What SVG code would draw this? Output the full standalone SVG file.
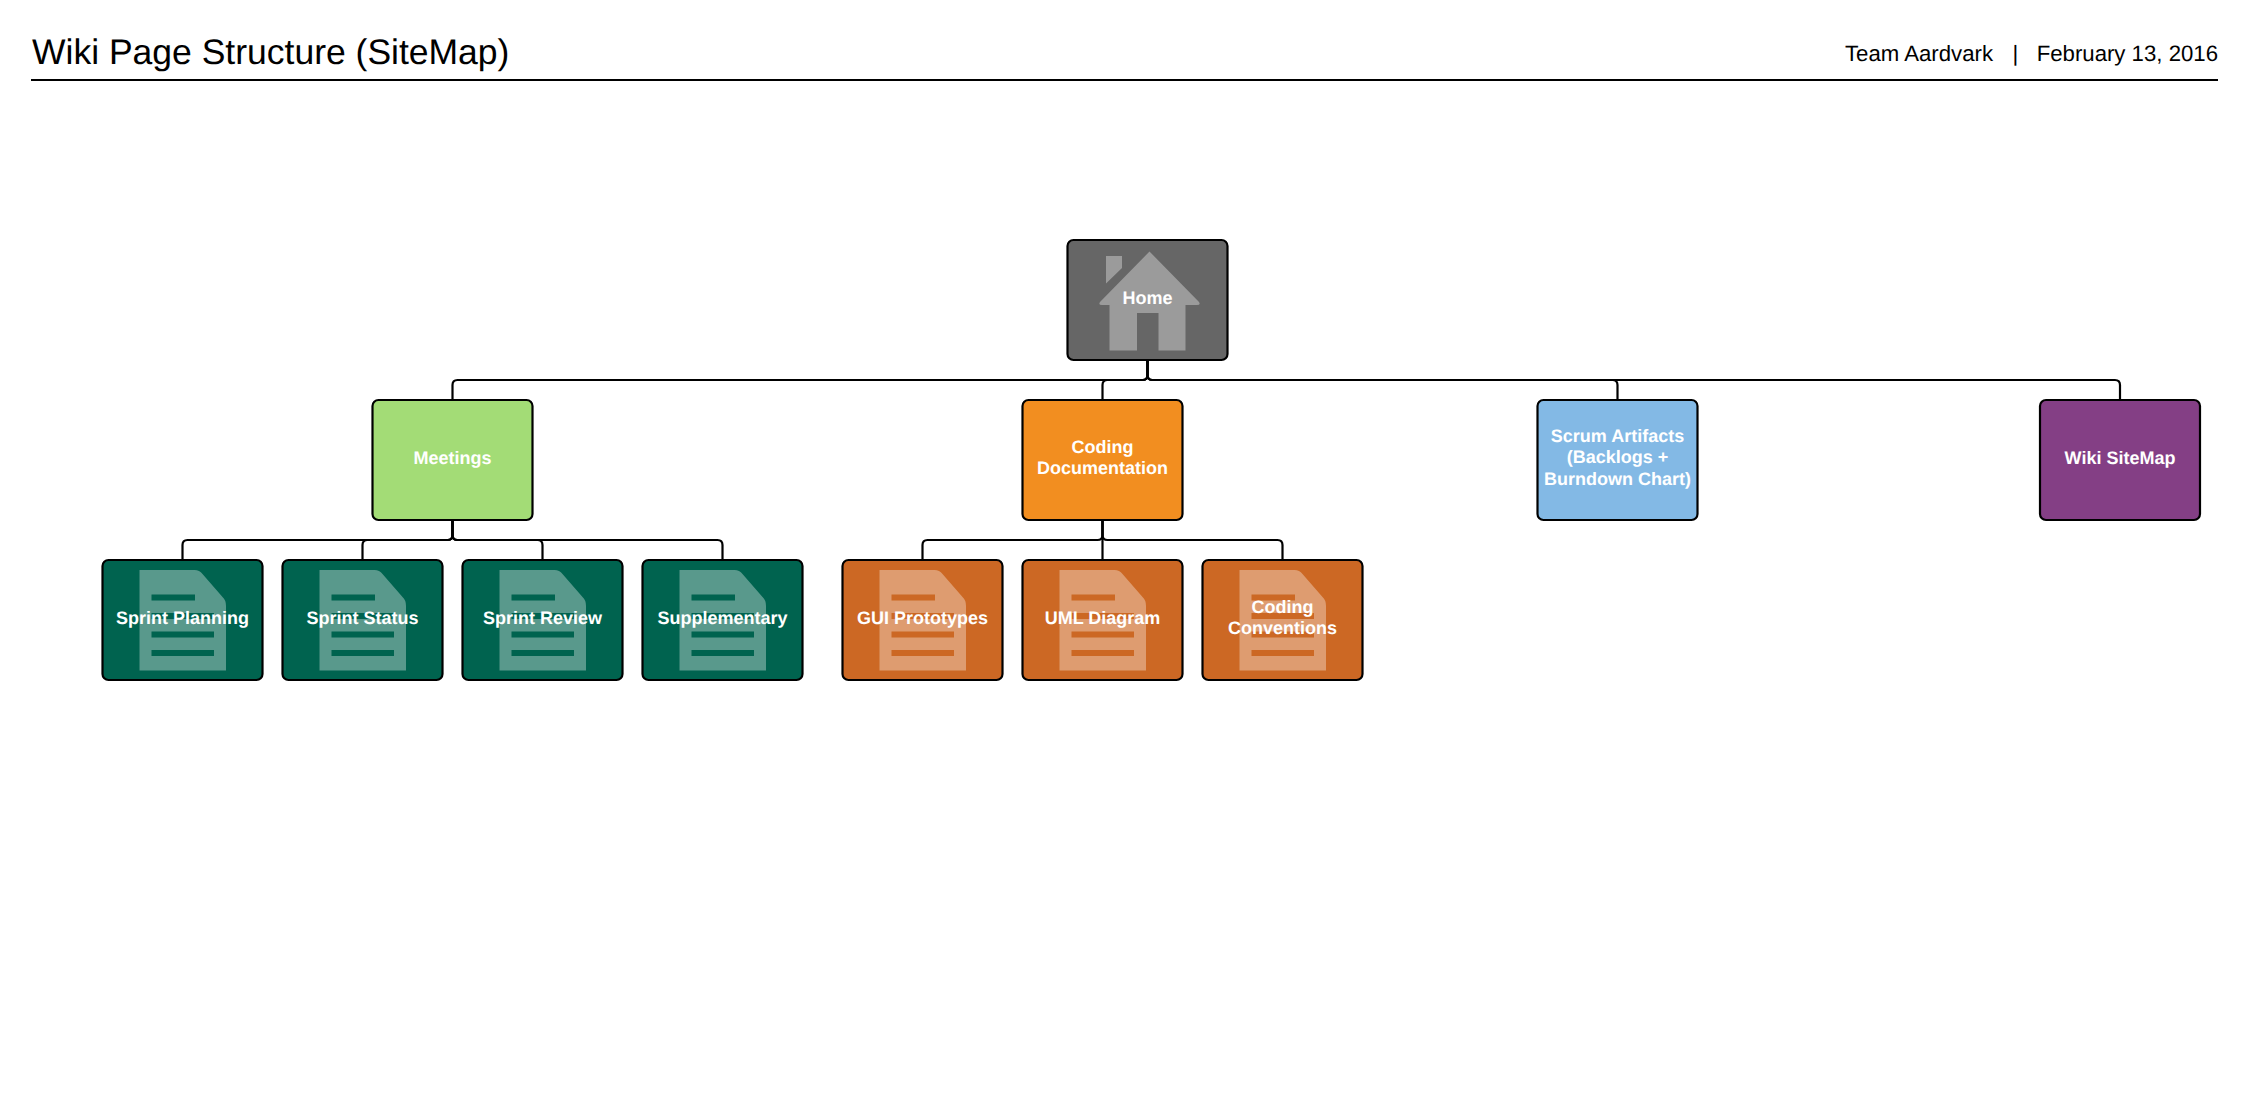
<svg xmlns="http://www.w3.org/2000/svg" width="2249" height="1100" viewBox="0 0 2249 1100">
<style>
text{font-family:"Liberation Sans",Arial,sans-serif;text-rendering:geometricPrecision}
.box{stroke:#000;stroke-width:2.2}
.lbl{fill:#fff;font-weight:bold;font-size:18px;text-anchor:middle}
.con{fill:none;stroke:#000;stroke-width:2.2}
.icon{fill:#fff;fill-opacity:.35}
</style>
<defs>
<path id="doc" fill-rule="evenodd" d="M37 10H92Q97 10 100 14L120 37Q123.500 40 123.500 46V110.500H37ZM49 34.500V40.500H92.500V34.500ZM49 53V59H111.500V53ZM49 71.500V77.500H111.500V71.500ZM49 90V96H111.500V90Z"/>
<path id="house" fill-rule="evenodd" d="M1149.500 251.500L1199 302Q1201 305 1197 305H1185.500V350.500H1158.500V313H1137V350.500H1109.500V305H1102Q1098 305 1100 302ZM1106 256H1122V268L1106 283.500Z"/>
</defs>
<rect width="2249" height="1100" fill="#fff"/>
<g id="header">
<text x="32" y="64" font-size="35.500">Wiki Page Structure (SiteMap)</text>
<text x="1845" y="61" font-size="22.200">Team Aardvark</text>
<text x="2015.500" y="61" font-size="22.200" text-anchor="middle">|</text>
<text x="2218" y="61" font-size="22.200" text-anchor="end">February 13, 2016</text>
<line x1="31" y1="80" x2="2218" y2="80" stroke="#000" stroke-width="2"/>
</g>
<g id="connectors" class="con">
<path d="M1147.500 360V375Q1147.500 380 1142.500 380H457.500Q452.500 380 452.500 385V400"/>
<path d="M1147.500 360V375Q1147.500 380 1142.500 380H1107.500Q1102.500 380 1102.500 385V400"/>
<path d="M1147.500 360V375Q1147.500 380 1152.500 380H1612.500Q1617.500 380 1617.500 385V400"/>
<path d="M1147.500 360V375Q1147.500 380 1152.500 380H2115Q2120 380 2120 385V400"/>
<path d="M452.500 520V535Q452.500 540 447.500 540H187.500Q182.500 540 182.500 545V560"/>
<path d="M452.500 520V535Q452.500 540 447.500 540H367.500Q362.500 540 362.500 545V560"/>
<path d="M452.500 520V535Q452.500 540 457.500 540H537.500Q542.500 540 542.500 545V560"/>
<path d="M452.500 520V535Q452.500 540 457.500 540H717.500Q722.500 540 722.500 545V560"/>
<path d="M1102.500 520V535Q1102.500 540 1097.500 540H927.500Q922.500 540 922.500 545V560"/>
<path d="M1102.500 520V560"/>
<path d="M1102.500 520V535Q1102.500 540 1107.500 540H1277.500Q1282.500 540 1282.500 545V560"/>
</g>
<g id="home"><rect class="box" x="1067.500" y="240" width="160" height="120" rx="6" fill="#666"/><use href="#house" class="icon"/><text class="lbl" x="1147.500" y="304">Home</text></g>
<g id="meetings"><rect class="box" x="372.500" y="400" width="160" height="120" rx="6" fill="#a3dc76"/><text class="lbl" x="452.500" y="464">Meetings</text></g>
<g id="coding-documentation"><rect class="box" x="1022.500" y="400" width="160" height="120" rx="6" fill="#f28e20"/><text class="lbl" x="1102.500" y="453">Coding</text><text class="lbl" x="1102.500" y="474">Documentation</text></g>
<g id="scrum-artifacts"><rect class="box" x="1537.500" y="400" width="160" height="120" rx="6" fill="#83b9e5"/><text class="lbl" x="1617.500" y="442">Scrum Artifacts</text><text class="lbl" x="1617.500" y="463">(Backlogs +</text><text class="lbl" x="1617.500" y="485">Burndown Chart)</text></g>
<g id="wiki-sitemap"><rect class="box" x="2040" y="400" width="160" height="120" rx="6" fill="#843f85"/><text class="lbl" x="2120" y="464">Wiki SiteMap</text></g>
<g id="sprint-planning"><rect class="box" x="102.500" y="560" width="160" height="120" rx="6" fill="#00634f"/><use href="#doc" class="icon" x="102.500" y="560"/><text class="lbl" x="182.500" y="624">Sprint Planning</text></g>
<g id="sprint-status"><rect class="box" x="282.500" y="560" width="160" height="120" rx="6" fill="#00634f"/><use href="#doc" class="icon" x="282.500" y="560"/><text class="lbl" x="362.500" y="624">Sprint Status</text></g>
<g id="sprint-review"><rect class="box" x="462.500" y="560" width="160" height="120" rx="6" fill="#00634f"/><use href="#doc" class="icon" x="462.500" y="560"/><text class="lbl" x="542.500" y="624">Sprint Review</text></g>
<g id="supplementary"><rect class="box" x="642.500" y="560" width="160" height="120" rx="6" fill="#00634f"/><use href="#doc" class="icon" x="642.500" y="560"/><text class="lbl" x="722.500" y="624">Supplementary</text></g>
<g id="gui-prototypes"><rect class="box" x="842.500" y="560" width="160" height="120" rx="6" fill="#cc6824"/><use href="#doc" class="icon" x="842.500" y="560"/><text class="lbl" x="922.500" y="624">GUI Prototypes</text></g>
<g id="uml-diagram"><rect class="box" x="1022.500" y="560" width="160" height="120" rx="6" fill="#cc6824"/><use href="#doc" class="icon" x="1022.500" y="560"/><text class="lbl" x="1102.500" y="624">UML Diagram</text></g>
<g id="coding-conventions"><rect class="box" x="1202.500" y="560" width="160" height="120" rx="6" fill="#cc6824"/><use href="#doc" class="icon" x="1202.500" y="560"/><text class="lbl" x="1282.500" y="613">Coding</text><text class="lbl" x="1282.500" y="634">Conventions</text></g>
</svg>
